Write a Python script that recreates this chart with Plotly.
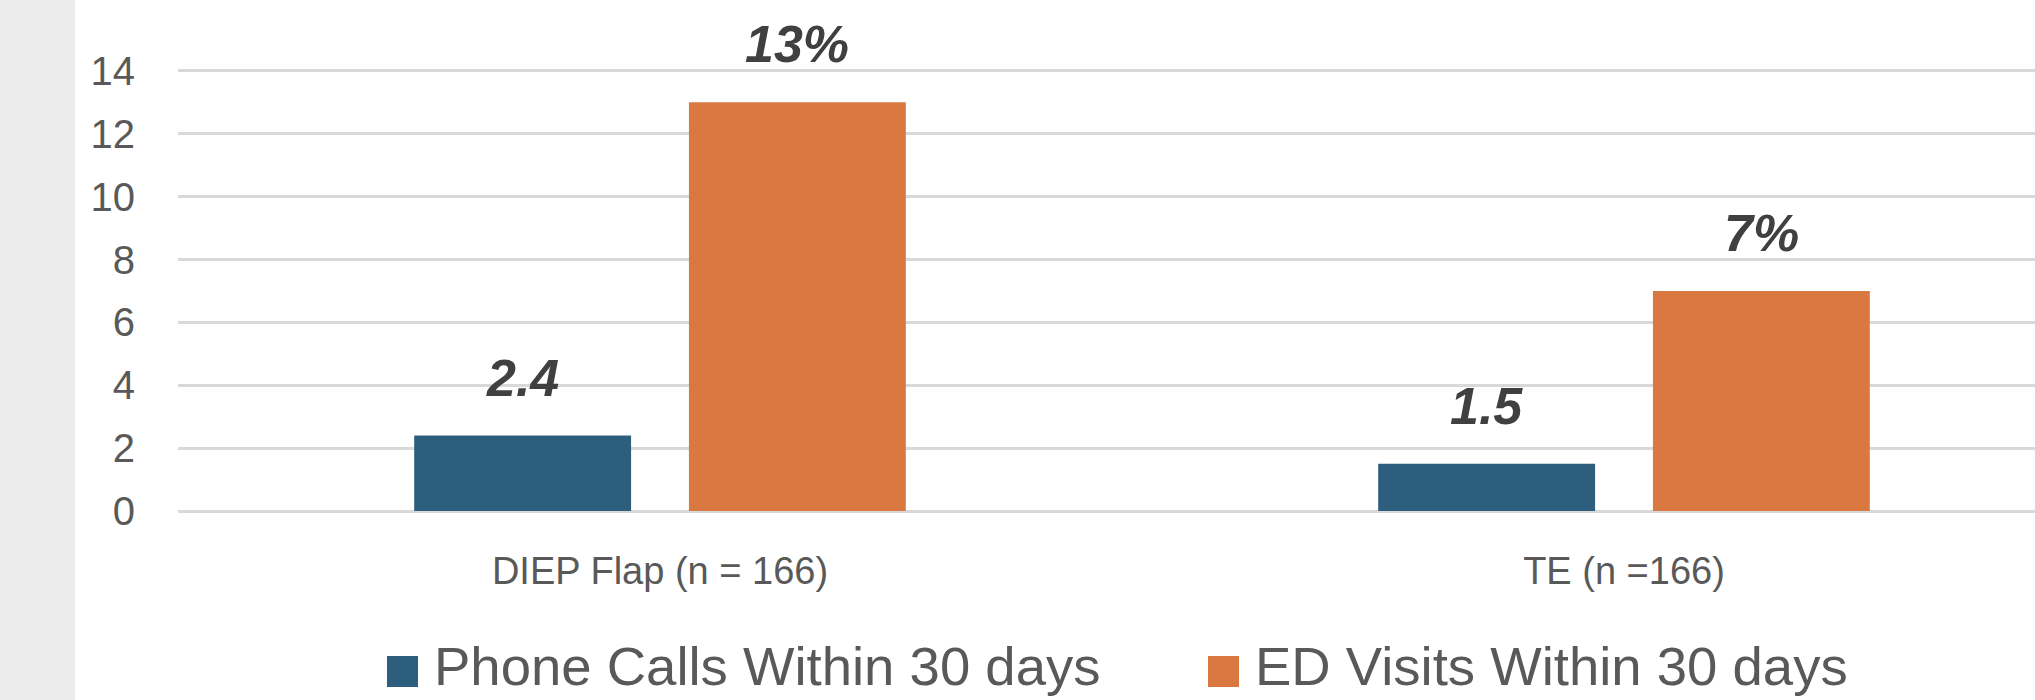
import plotly.graph_objects as go

# Categories and series
categories = ["DIEP Flap (n = 166)", "TE (n =166)"]
series_names = ["Phone Calls Within 30 days", "ED Visits Within 30 days"]
phone_calls = [2.4, 1.5]
ed_visits = [13, 7]
phone_labels = ["2.4", "1.5"]
ed_labels = ["13%", "7%"]
y_ticks = [0, 2, 4, 6, 8, 10, 12, 14]

series_values = [phone_calls, ed_visits]
series_labels = [phone_labels, ed_labels]
colors = ["#2E5E7D", "#D97841"]

# Page geometry (pixels)
W, H = 2035, 700
ML, MR, MT, MB = 178, 0, 0, 189
plot_w = W - ML - MR
plot_h = H - MT - MB

bar_width = 0.225
bar_offsets = [-0.255, 0.030]

text_font = "Liberation Sans, Arial, sans-serif"
label_gray = "#595959"
grid_gray = "#D9D9D9"

fig = go.Figure()

for name, vals, col, off in zip(series_names, series_values, colors, bar_offsets):
    fig.add_trace(go.Bar(
        x=categories, y=vals, name=name,
        marker=dict(color=col, line=dict(width=0)),
        width=bar_width, offset=off,
        showlegend=False, hoverinfo="x+y+name",
    ))

annotations = []
# Value labels above each bar
for vals, labs, off in zip(series_values, series_labels, bar_offsets):
    for i, (v, lab) in enumerate(zip(vals, labs)):
        annotations.append(dict(
            x=i + off + bar_width / 2, y=v, xref="x", yref="y",
            text=f"<b><i>{lab}</i></b>", showarrow=False,
            xanchor="center", yanchor="bottom", yshift=27,
            font=dict(family=text_font, size=52, color="#404040"),
        ))


def px_x(px):
    return (px - ML) / plot_w


def px_y(py):
    return (MT + plot_h - py) / plot_h


shapes = [
    # grey band at the left edge of the slide
    dict(type="rect", xref="paper", yref="paper",
         x0=px_x(0), x1=px_x(75), y0=px_y(H), y1=px_y(0),
         fillcolor="#ECECEC", line=dict(width=0), layer="below"),
]

# Legend drawn below the plot: coloured swatch + series name
legend_x = [387, 1208]
for name, col, lx in zip(series_names, colors, legend_x):
    shapes.append(dict(type="rect", xref="paper", yref="paper",
                       x0=px_x(lx), x1=px_x(lx + 31), y0=px_y(687), y1=px_y(656),
                       fillcolor=col, line=dict(width=0)))
    annotations.append(dict(
        x=px_x(lx + 45), y=px_y(666), xref="paper", yref="paper",
        text=name, showarrow=False, xanchor="left", yanchor="middle",
        font=dict(family=text_font, size=54.5, color=label_gray),
    ))

y_top = 14 + 71 / ((511.5 - 71) / 14)

fig.update_layout(
    width=W, height=H,
    margin=dict(l=ML, r=MR, t=MT, b=MB, pad=0),
    paper_bgcolor="white", plot_bgcolor="white",
    barmode="group",
    showlegend=False,
    shapes=shapes,
    annotations=annotations,
    xaxis=dict(
        type="category", range=[-0.5, -0.5 + plot_w / 964],
        showgrid=False, zeroline=False, showline=False,
        ticks="outside", ticklen=26, tickcolor="rgba(0,0,0,0)",
        tickfont=dict(family=text_font, size=38, color=label_gray),
    ),
    yaxis=dict(
        range=[0, y_top], tickvals=y_ticks,
        showgrid=True, gridcolor=grid_gray, gridwidth=2.5,
        zeroline=True, zerolinecolor=grid_gray, zerolinewidth=2.5,
        showline=False,
        ticks="outside", ticklen=34, tickcolor="rgba(0,0,0,0)",
        tickfont=dict(family=text_font, size=40, color=label_gray),
    ),
)

fig.write_html("out.html")
